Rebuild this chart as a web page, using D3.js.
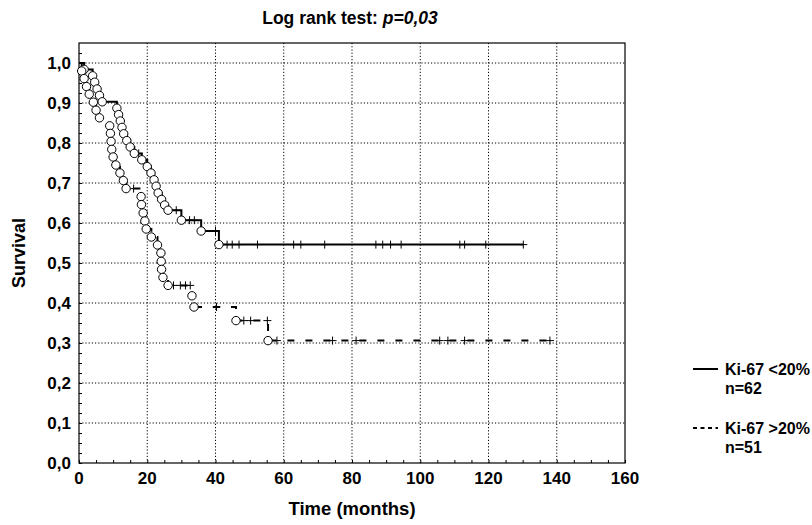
<!DOCTYPE html>
<html>
<head>
<meta charset="utf-8">
<script src="https://cdn.jsdelivr.net/npm/d3@7"></script>
<style>
  body { margin: 0; background: #fff; }
  text { font-family: "Liberation Sans", Arial, Helvetica, sans-serif; font-weight: bold; fill: #000; }
</style>
</head>
<body>
<svg id="canvas" width="812" height="525"></svg>
<script>
// Ki-67 <20% (solid line), n=62 : events (circles) and censored (+)
let lowEventT = [1.5, 4.0, 4.6, 5.3, 6.0, 6.8, 11.1, 11.6, 12.1, 12.6, 13.1, 14.0, 15.0, 16.2,
                 18.4, 20.0, 21.1, 22.0, 22.6, 23.2, 24.2, 25.1, 26.1, 30.0, 35.8, 41.0]
let lowEventS = [0.984, 0.968, 0.952, 0.935, 0.919, 0.903, 0.887, 0.871, 0.855, 0.839, 0.823, 0.806, 0.790, 0.774,
                 0.758, 0.741, 0.725, 0.708, 0.692, 0.675, 0.659, 0.645, 0.632, 0.607, 0.580, 0.546]
let lowCensT = [17.5, 28.5, 32.4, 33.8, 40.0, 43.4, 44.9, 46.9, 52.3, 62.9, 65.0, 72.0, 87.0, 89.0, 91.3, 94.4,
                111.6, 113.0, 119.2, 130.2]
let lowCensS = [0.774, 0.632, 0.607, 0.607, 0.580, 0.546, 0.546, 0.546, 0.546, 0.546, 0.546, 0.546, 0.546, 0.546,
                0.546, 0.546, 0.546, 0.546, 0.546, 0.546]

// Ki-67 >20% (dashed line), n=51
let highEventT = [0.8, 1.5, 2.2, 3.0, 4.2, 5.0, 6.0, 9.0, 9.2, 9.4, 9.6, 10.0, 10.8, 12.0, 13.0, 13.8,
                  18.2, 18.3, 18.8, 19.3, 19.7, 21.2, 23.0, 24.0, 24.1, 24.2, 24.6, 26.1, 33.1, 33.7, 46.0, 55.4]
let highEventS = [0.980, 0.961, 0.941, 0.922, 0.902, 0.882, 0.863, 0.843, 0.824, 0.804, 0.784, 0.765, 0.745, 0.725, 0.706, 0.686,
                  0.666, 0.646, 0.625, 0.605, 0.585, 0.565, 0.545, 0.525, 0.504, 0.484, 0.464, 0.444, 0.418, 0.390, 0.356, 0.306]
let highCensT = [16.0, 27.7, 29.7, 31.2, 32.6, 40.3, 48.3, 50.3, 55.2, 58.0, 74.3, 81.2, 105.7, 108.1, 113.0, 138.0]
let highCensS = [0.686, 0.444, 0.444, 0.444, 0.444, 0.390, 0.356, 0.356, 0.356, 0.306, 0.306, 0.306, 0.306, 0.306, 0.306, 0.306]

let xTicks = [0, 20, 40, 60, 80, 100, 120, 140, 160]
let yTicks = [0, 0.1, 0.2, 0.3, 0.4, 0.5, 0.6, 0.7, 0.8, 0.9, 1.0]

let legendLabels = ['Ki-67 <20%', 'Ki-67 >20%']
let legendN = ['n=62', 'n=51']

let canvas = d3.select('#canvas')

let pLeft = 79, pRight = 625, pTop = 43, pBottom = 463

let x = d3.scaleLinear().domain([0, 160]).range([pLeft, pRight])
let y = d3.scaleLinear().domain([0, 1.05]).range([pBottom, pTop])
let fmt = d => d3.format('.1f')(d).replace('.', ',')

// grid
canvas.append('g').selectAll('line')
    .data(xTicks.slice(1, -1))
    .enter().append('line')
    .attr('x1', d => x(d)).attr('x2', d => x(d))
    .attr('y1', pTop).attr('y2', pBottom)
    .attr('stroke', '#000').attr('stroke-width', 1).attr('stroke-dasharray', '1.2,2')

canvas.append('g').selectAll('line')
    .data(yTicks.slice(1))
    .enter().append('line')
    .attr('x1', pLeft).attr('x2', pRight)
    .attr('y1', d => y(d)).attr('y2', d => y(d))
    .attr('stroke', '#000').attr('stroke-width', 1).attr('stroke-dasharray', '1.2,2')

// axes (ticks inside the frame)
let xAxis = d3.axisTop(x).tickValues(d3.range(0, 161, 5)).tickSize(3).tickFormat('')
let yAxis = d3.axisRight(y).tickValues(d3.range(0, 1.05, 0.025)).tickSize(3).tickFormat('')

canvas.append('g').attr('transform', `translate(0,${pBottom})`).call(xAxis)
    .call(g => g.select('.domain').remove())
canvas.append('g').attr('transform', `translate(${pLeft},0)`).call(yAxis)
    .call(g => g.select('.domain').remove())

canvas.append('rect')
    .attr('x', pLeft).attr('y', pTop)
    .attr('width', pRight - pLeft).attr('height', pBottom - pTop)
    .attr('fill', 'none').attr('stroke', '#000').attr('stroke-width', 1.2)

// tick labels
canvas.append('g').selectAll('text')
    .data(xTicks)
    .enter().append('text')
    .attr('x', d => x(d)).attr('y', pBottom + 21)
    .attr('text-anchor', 'middle')
    .style('font-size', '17px')
    .text(d => d)

canvas.append('g').selectAll('text')
    .data(yTicks)
    .enter().append('text')
    .attr('x', pLeft - 8).attr('y', d => y(d) + 6)
    .attr('text-anchor', 'end')
    .style('font-size', '17px')
    .text(d => fmt(d))

// curves
let buildSteps = (evT, evS, cT, cS) => {
    let pts = [[0, 1]]
    evT.forEach((t, i) => pts.push([t, evS[i]]))
    cT.forEach((t, i) => pts.push([t, cS[i]]))
    pts.sort((a, b) => a[0] - b[0])
    return pts
}

let line = d3.line()
    .x(d => x(d[0]))
    .y(d => y(d[1]))
    .curve(d3.curveStepAfter)

let series = [
    {evT: lowEventT, evS: lowEventS, cT: lowCensT, cS: lowCensS, dash: null},
    {evT: highEventT, evS: highEventS, cT: highCensT, cS: highCensS, dash: '7,11'}
]

series.forEach(s => {
    canvas.append('path')
        .attr('d', line(buildSteps(s.evT, s.evS, s.cT, s.cS)))
        .attr('fill', 'none')
        .attr('stroke', '#000')
        .attr('stroke-width', 2)
        .attr('stroke-dasharray', s.dash)
})

series.forEach(s => {
    // censored
    let g = canvas.append('g')
    s.cT.forEach((t, i) => {
        g.append('line')
            .attr('x1', x(t)).attr('x2', x(t))
            .attr('y1', y(s.cS[i]) - 4).attr('y2', y(s.cS[i]) + 4)
            .attr('stroke', '#000').attr('stroke-width', 1)
        g.append('line')
            .attr('x1', x(t) - 4).attr('x2', x(t) + 4)
            .attr('y1', y(s.cS[i])).attr('y2', y(s.cS[i]))
            .attr('stroke', '#000').attr('stroke-width', 1)
    })
    // events
    canvas.append('g').selectAll('circle')
        .data(s.evT)
        .enter().append('circle')
        .attr('cx', d => x(d))
        .attr('cy', (d, i) => y(s.evS[i]))
        .attr('r', 4.2)
        .attr('fill', '#fff')
        .attr('stroke', '#000')
        .attr('stroke-width', 1)
})

// title
let title = canvas.append('text')
    .attr('x', 350).attr('y', 24)
    .attr('text-anchor', 'middle')
    .style('font-size', '17.5px')
title.append('tspan').text('Log rank test: ')
title.append('tspan').style('font-style', 'italic').text('p=0,03')

// axis titles
canvas.append('text')
    .attr('x', (pLeft + pRight) / 2).attr('y', 515)
    .attr('text-anchor', 'middle')
    .style('font-size', '18.5px')
    .text('Time (months)')

canvas.append('text')
    .attr('transform', `translate(25,${(pTop + pBottom) / 2}) rotate(-90)`)
    .attr('text-anchor', 'middle')
    .style('font-size', '18px')
    .text('Survival')

// legend
let legY = [369, 428]
let legDash = [null, '4,3.5']
legendLabels.forEach((lab, i) => {
    canvas.append('line')
        .attr('x1', 693).attr('x2', 718)
        .attr('y1', legY[i]).attr('y2', legY[i])
        .attr('stroke', '#000').attr('stroke-width', 2)
        .attr('stroke-dasharray', legDash[i])
    canvas.append('text')
        .attr('x', 725).attr('y', legY[i] + 6)
        .style('font-size', '16px')
        .text(lab)
    canvas.append('text')
        .attr('x', 725).attr('y', legY[i] + 25)
        .style('font-size', '16px')
        .text(legendN[i])
})
</script>
</body>
</html>
